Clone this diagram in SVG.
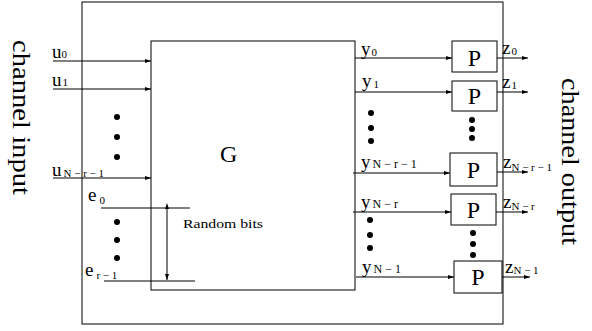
<svg xmlns="http://www.w3.org/2000/svg" width="592" height="331" viewBox="0 0 592 331">
<style>
text{font-family:"Liberation Serif","Times New Roman",serif;fill:#000}
.ln{stroke:#000;stroke-width:1;fill:none}
.box{stroke:#000;stroke-width:1;fill:#fff}
.lab{font-size:19px}
.sub{font-size:11px}
.sub2{font-size:12px}
.big{font-size:26px}
.p{font-size:24px}
.dot{fill:#000}
</style>
<defs>
<marker id="ah" viewBox="0 0 6 4" refX="6" refY="2" markerWidth="6" markerHeight="4" orient="auto" markerUnits="userSpaceOnUse">
<path d="M0,0 L6,2 L0,4 Z" fill="#000"/>
</marker>
<marker id="ahs" viewBox="0 0 6 4" refX="0" refY="2" markerWidth="6" markerHeight="4" orient="auto-start-reverse" markerUnits="userSpaceOnUse">
<path d="M0,0 L6,2 L0,4 Z" fill="#000"/>
</marker>
</defs>
<rect id="frame" x="82" y="2" width="421" height="322" fill="none" stroke="#000"/>
<g id="G">
<rect class="box" x="151" y="41" width="204" height="249" fill="none"/>
<text x="220" y="162" font-size="24">G</text>
</g>
<g id="connectors">
<line class="ln" x1="53" y1="61" x2="151" y2="61" marker-end="url(#ah)"/>
<line class="ln" x1="53" y1="89" x2="151" y2="89" marker-end="url(#ah)"/>
<line class="ln" x1="53" y1="178" x2="151" y2="178" marker-end="url(#ah)"/>
<line class="ln" x1="101" y1="208" x2="190" y2="208"/>
<line class="ln" x1="104" y1="281" x2="195" y2="281"/>
<line class="ln" x1="167" y1="209" x2="167" y2="280" marker-start="url(#ahs)" marker-end="url(#ah)"/>
<line class="ln" x1="355" y1="58" x2="452" y2="58" marker-end="url(#ah)"/>
<line class="ln" x1="355" y1="92" x2="452" y2="92" marker-end="url(#ah)"/>
<line class="ln" x1="353" y1="173" x2="450" y2="173" marker-end="url(#ah)"/>
<line class="ln" x1="353" y1="212" x2="451" y2="212" marker-end="url(#ah)"/>
<line class="ln" x1="356" y1="277" x2="454" y2="277" marker-end="url(#ah)"/>
<line class="ln" x1="497" y1="58" x2="528" y2="58" marker-end="url(#ah)"/>
<line class="ln" x1="497" y1="92" x2="528" y2="92" marker-end="url(#ah)"/>
<line class="ln" x1="497" y1="172" x2="528" y2="172" marker-end="url(#ah)"/>
<line class="ln" x1="496" y1="212" x2="528" y2="212" marker-end="url(#ah)"/>
<line class="ln" x1="502" y1="277" x2="530" y2="277" marker-end="url(#ah)"/>
</g>
<g id="inputs">
<text class="lab" x="52" y="58">u<tspan class="sub" dx="0" dy="0">0</tspan></text>
<text class="lab" x="52" y="86">u<tspan class="sub" dx="1" dy="0">1</tspan></text>
<text class="lab" x="52" y="176">u<tspan class="sub" dx="2" dy="1">N − r − 1</tspan></text>
<circle class="dot" cx="117" cy="117" r="3"/>
<circle class="dot" cx="117" cy="137" r="3"/>
<circle class="dot" cx="117" cy="157" r="3"/>
</g>
<g id="random">
<text class="lab" x="88" y="201">e<tspan class="sub" dx="3" dy="3">0</tspan></text>
<text class="lab" x="85" y="276">e<tspan class="sub" dx="3" dy="3">r − 1</tspan></text>
<circle class="dot" cx="117" cy="222" r="3"/>
<circle class="dot" cx="117" cy="240" r="3"/>
<circle class="dot" cx="117" cy="258" r="3"/>
<text x="183" y="228" font-size="13" textLength="80" lengthAdjust="spacingAndGlyphs">Random bits</text>
</g>
<g id="outputs">
<text class="lab" x="361" y="55">y<tspan class="sub" dx="1" dy="1">0</tspan></text>
<text class="lab" x="362" y="87">y<tspan class="sub" dx="2" dy="1">1</tspan></text>
<text class="lab" x="361" y="168">y<tspan class="sub2" dx="2" dy="0">N − r − 1</tspan></text>
<text class="lab" x="361" y="208">y<tspan class="sub2" dx="2" dy="0">N − r</tspan></text>
<text class="lab" x="362" y="273">y<tspan class="sub2" dx="2" dy="0">N − 1</tspan></text>
<circle class="dot" cx="371" cy="113" r="3"/>
<circle class="dot" cx="371" cy="128" r="3"/>
<circle class="dot" cx="371" cy="141" r="3"/>
<circle class="dot" cx="370" cy="220" r="3"/>
<circle class="dot" cx="370" cy="235" r="3"/>
<circle class="dot" cx="370" cy="248" r="3"/>
<circle class="dot" cx="472" cy="120" r="3"/>
<circle class="dot" cx="472" cy="129" r="3"/>
<circle class="dot" cx="472" cy="138" r="3"/>
<circle class="dot" cx="473" cy="233" r="3"/>
<circle class="dot" cx="473" cy="244" r="3"/>
<circle class="dot" cx="473" cy="255" r="3"/>
</g>
<g id="P0"><rect class="box" x="452" y="41" width="45" height="31"/><text class="p" x="474.5" y="66" text-anchor="middle">P</text></g>
<g id="P1"><rect class="box" x="452" y="81" width="45" height="30"/><text class="p" x="474.5" y="104" text-anchor="middle">P</text></g>
<g id="P2"><rect class="box" x="450" y="153" width="47" height="33"/><text class="p" x="473.5" y="178" text-anchor="middle">P</text></g>
<g id="P3"><rect class="box" x="451" y="194" width="45" height="31"/><text class="p" x="473.5" y="218" text-anchor="middle">P</text></g>
<g id="P4"><rect class="box" x="454" y="261" width="48" height="32"/><text class="p" x="478" y="285" text-anchor="middle">P</text></g>
<g id="zlabels">
<text class="lab" x="502" y="54">z<tspan class="sub" dx="1" dy="1">0</tspan></text>
<text class="lab" x="502" y="88">z<tspan class="sub" dx="1" dy="1">1</tspan></text>
<text class="lab" x="503" y="168">z<tspan class="sub" dx="0" dy="3">N − r − 1</tspan></text>
<text class="lab" x="503" y="208">z<tspan class="sub" dx="0" dy="2">N − r</tspan></text>
<text class="lab" x="505" y="273">z<tspan class="sub" dx="0" dy="1">N − 1</tspan></text>
</g>
<text class="big" transform="translate(13,117.5) rotate(90)" text-anchor="middle" textLength="155" lengthAdjust="spacingAndGlyphs">channel input</text>
<text class="big" transform="translate(562,161.5) rotate(90)" text-anchor="middle" textLength="167" lengthAdjust="spacingAndGlyphs">channel output</text>
</svg>
